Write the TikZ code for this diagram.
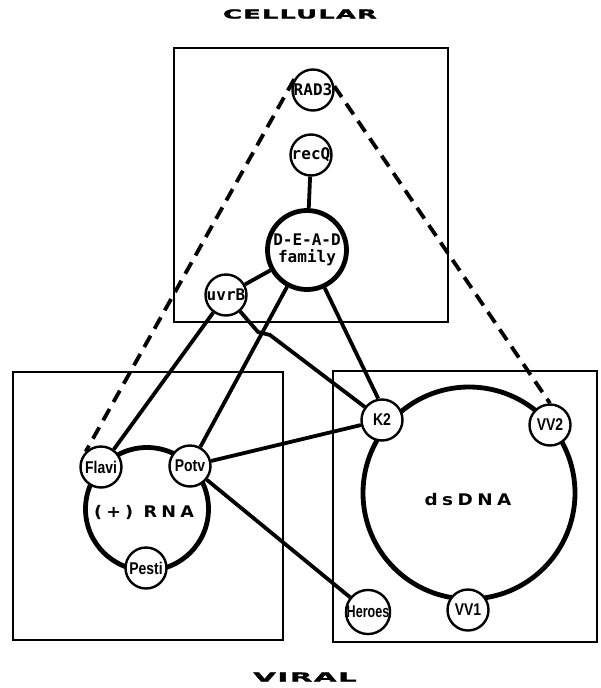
\documentclass[tikz,border=0pt]{standalone}
\usepackage{fontspec}
\newfontfamily\monolabel{DejaVu Sans Mono}
\newfontfamily\narrowlabel{Liberation Sans}[FakeStretch=0.82]
\newfontfamily\widetitle{DejaVu Sans}[LetterSpace=5,FakeBold=1.5]
\newfontfamily\widering{DejaVu Sans}[LetterSpace=24]
\newcommand{\widen}[2]{\scalebox{#1}[1]{#2}}

\begin{document}
\begin{tikzpicture}[x=1pt,y=-1pt,
  frame/.style={draw, line width=1.8pt},
  cellnode/.style={circle, draw, fill=white, line width=2.4pt, minimum size=41pt,
    inner sep=0pt, font=\monolabel\bfseries\fontsize{16}{19}\selectfont},
  virnode/.style={circle, draw, fill=white, line width=2.4pt, minimum size=41pt,
    inner sep=0pt, font=\narrowlabel\bfseries\fontsize{17}{20}\selectfont},
  ring/.style={circle, draw, line width=4.8pt, inner sep=0pt},
  ringtext/.style={font=\widering\bfseries\fontsize{16}{19}\selectfont, inner sep=0pt},
  link/.style={line width=3.8pt},
  dashlink/.style={line width=3.8pt, dash pattern=on 13pt off 8pt},
  title/.style={font=\widetitle\bfseries\fontsize{12.5}{15}\selectfont, inner sep=0pt}
]
\useasboundingbox (0,0) rectangle (600,688);

% group frames
\draw[frame] (174,48) rectangle (448,322);
\draw[frame] (13,372) rectangle (283,640);
\draw[frame] (333,371) rectangle (597,642);

% titles
\node[title] (cellular) at (300,14) {\widen{2.05}{CELLULAR}};
\node[title] (viral) at (305,677) {\widen{2.35}{VIRAL}};

% large rings
\node[ring, minimum size=123pt] (rna) at (147,509) {};
\node[ring, minimum size=212pt] (dsdna) at (469,493) {};
\node[ringtext] (rnalabel) at (144,512) {\widen{1.1}{(+) RNA}};
\node[ringtext] (dsdnalabel) at (468,500) {\widen{1.15}{dsDNA}};

% cellular helicases
\node[cellnode] (RAD3) at (313,90) {RAD3};
\node[cellnode] (recQ) at (311,155) {recQ};
\node[cellnode, line width=4.8pt, minimum size=79pt, align=center]
  (DEAD) at (307,250) {D-E-A-D\\[-2pt]family};
\node[cellnode] (uvrB) at (226,295) {uvrB};

% viral helicases
\node[virnode] (Flavi) at (101,467) {Flavi};
\node[virnode] (Potv) at (190,466) {Potv};
\node[virnode] (Pesti) at (146,568) {Pesti};
\node[virnode] (K2) at (382,420) {K2};
\node[virnode] (VV2) at (550,425) {VV2};
\node[virnode] (VV1) at (468,610) {VV1};
\node[virnode] (Heroes) at (368,612) {\widen{0.9}{Heroes}};

% relationships
\draw[link] (recQ) -- (DEAD);
\draw[link] (DEAD) -- (uvrB);
\draw[link] (uvrB) -- (Flavi);
\draw[link] (uvrB) -- (258,332) -- (270,335) -- (K2);
\draw[link] (DEAD) -- (Potv);
\draw[link] (DEAD.-65) -- (K2.100);
\draw[link] (Potv) -- (K2);
\draw[link] (Potv) -- (Heroes);
\draw[dashlink] (RAD3.150) -- (Flavi.135);
\draw[dashlink] (RAD3.10) -- (VV2.90);
\end{tikzpicture}
\end{document}
